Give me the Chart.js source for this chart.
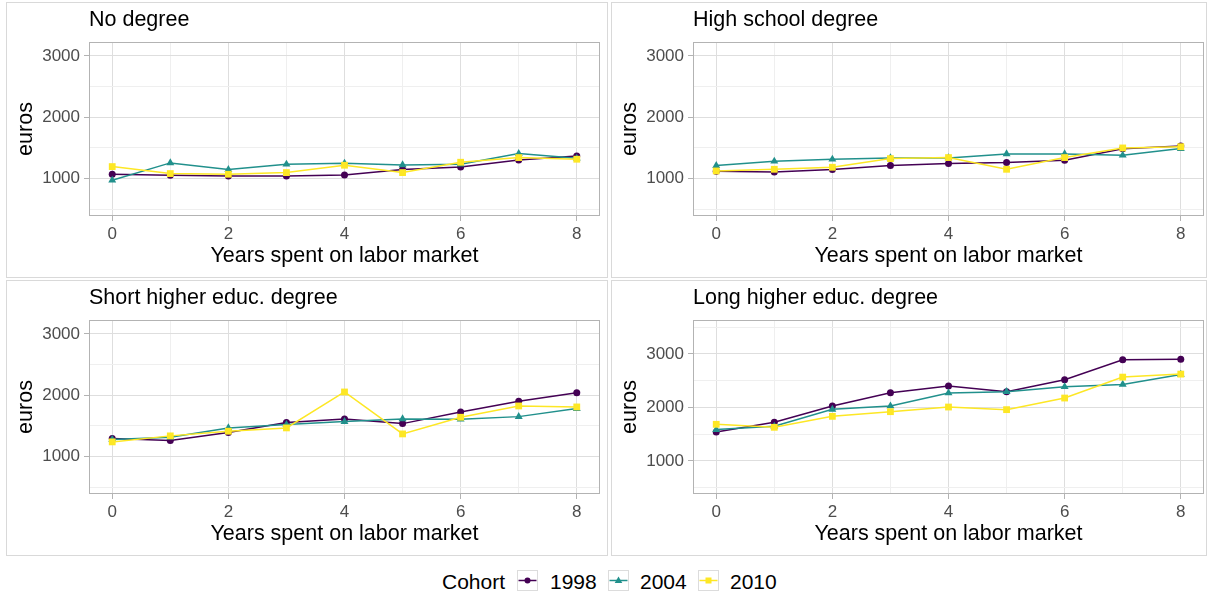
<!DOCTYPE html>
<html>
<head>
<meta charset="utf-8">
<script src="https://cdn.jsdelivr.net/npm/chart.js@4.4.0/dist/chart.umd.min.js"></script>
<style>
  html, body { margin: 0; padding: 0; background: #fff; }
  body { width: 1209px; height: 596px; position: relative; overflow: hidden;
         font-family: "Liberation Sans", Arial, Helvetica, sans-serif; }
  .box { position: absolute; border: 1px solid #d9d9d9; box-sizing: border-box; background: #fff; }
  canvas { position: absolute; }
  .ttl { position: absolute; font-size: 21.5px; line-height: 1; color: #000; white-space: nowrap; }
  .lg { position: absolute; font-size: 21px; line-height: 1; color: #000; white-space: nowrap; }
  .key { position: absolute; }
</style>
</head>
<body>
<div class="box" style="left:6px;top:2px;width:602px;height:276px"></div>
<div class="box" style="left:611px;top:2px;width:596px;height:276px"></div>
<div class="box" style="left:6px;top:280px;width:602px;height:276px"></div>
<div class="box" style="left:611px;top:280px;width:596px;height:276px"></div>

<canvas id="c0" width="605" height="278" style="left:0;top:0"></canvas>
<canvas id="c1" width="605" height="278" style="left:604px;top:0"></canvas>
<canvas id="c2" width="605" height="278" style="left:0;top:278px"></canvas>
<canvas id="c3" width="605" height="278" style="left:604px;top:278px"></canvas>

<div id="titles"></div>
<div id="legend"></div>

<script>
// ---------------- data ----------------
const years = [0, 1, 2, 3, 4, 5, 6, 7, 8];
const cohorts = ['1998', '2004', '2010'];
const panelTitles = ['No degree', 'High school degree', 'Short higher educ. degree', 'Long higher educ. degree'];

const noDegree1998 = [1071, 1054, 1044, 1044, 1060, 1150, 1190, 1305, 1370];
const noDegree2004 = [973, 1256, 1147, 1234, 1250, 1223, 1234, 1408, 1332];
const noDegree2010 = [1196, 1082, 1071, 1098, 1218, 1098, 1267, 1343, 1316];

const highSchool1998 = [1120, 1109, 1147, 1212, 1245, 1261, 1300, 1485, 1530];
const highSchool2004 = [1212, 1283, 1315, 1337, 1337, 1402, 1402, 1380, 1489];
const highSchool2010 = [1125, 1152, 1185, 1326, 1343, 1152, 1343, 1500, 1520];

const shortHigher1998 = [1294, 1261, 1392, 1555, 1614, 1538, 1728, 1902, 2043];
const shortHigher2004 = [1278, 1316, 1468, 1522, 1571, 1614, 1609, 1652, 1783];
const shortHigher2010 = [1240, 1338, 1414, 1468, 2054, 1370, 1642, 1826, 1810];

const longHigher1998 = [1540, 1721, 2025, 2273, 2397, 2290, 2515, 2888, 2900];
const longHigher2004 = [1584, 1646, 1963, 2025, 2267, 2292, 2385, 2428, 2615];
const longHigher2010 = [1683, 1627, 1832, 1919, 2006, 1957, 2174, 2565, 2621];

const yTicksStandard = [500, 1000, 1500, 2000, 2500, 3000];
const yTicksLong = [500, 1000, 1500, 2000, 2500, 3000, 3500];
const yMinByPanel = [390, 390, 390, 381];
const yMaxByPanel = [3228, 3228, 3228, 3632];
const xMin = -0.4, xMax = 8.4;

// ---------------- styling ----------------
const colors = ['#440154', '#21908C', '#FDE725'];
const shapes = ['circle', 'triangle', 'rect'];
const radii = [3.5, 4.6, 4.8];
const FONT = "'Liberation Sans', Arial, Helvetica, sans-serif";
Chart.defaults.font.family = FONT;

const panelSeries = [
  [noDegree1998, noDegree2004, noDegree2010],
  [highSchool1998, highSchool2004, highSchool2010],
  [shortHigher1998, shortHigher2004, shortHigher2010],
  [longHigher1998, longHigher2004, longHigher2010]
];
const panelYTicks = [yTicksStandard, yTicksStandard, yTicksStandard, yTicksLong];

const frame = {
  id: 'frame',
  beforeDatasetsDraw(chart) {
    const { ctx, chartArea: a } = chart;
    ctx.save();
    ctx.strokeStyle = '#b3b3b3';
    ctx.lineWidth = 1;
    const l = Math.round(a.left) + 0.5, t = Math.round(a.top) + 0.5;
    const r = Math.round(a.right) - 0.5, b = Math.round(a.bottom) - 0.5;
    ctx.strokeRect(l, t, r - l, b - t);
    ctx.restore();
  }
};

function isMajorY(v) { return v % 1000 === 0; }
function isMajorX(v) { return v % 2 === 0; }

for (let p = 0; p < 4; p++) {
  const yT = panelYTicks[p];
  const datasets = panelSeries[p].map((vals, i) => ({
    label: cohorts[i],
    data: years.map((x, k) => ({ x: x, y: vals[k] })),
    borderColor: colors[i],
    backgroundColor: colors[i],
    borderWidth: 1.5,
    pointStyle: shapes[i],
    pointRadius: radii[i],
    pointBorderWidth: 0,
    pointBackgroundColor: colors[i],
    tension: 0,
    order: 3 - i,
    clip: false
  }));

  new Chart(document.getElementById('c' + p), {
    type: 'line',
    data: { datasets },
    plugins: [frame],
    options: {
      responsive: false,
      animation: false,
      devicePixelRatio: 1,
      layout: { padding: { left: 0, right: 5, top: 42, bottom: 0 } },
      plugins: { legend: { display: false }, tooltip: { enabled: false }, title: { display: false } },
      scales: {
        x: {
          type: 'linear',
          min: xMin, max: xMax,
          afterBuildTicks: s => { s.ticks = years.map(v => ({ value: v })); },
          afterFit: s => { s.height = 62; },
          ticks: {
            autoSkip: false, maxRotation: 0, padding: 3,
            color: '#4d4d4d', font: { size: 17 },
            callback: v => isMajorX(v) ? String(v) : ''
          },
          grid: {
            color: c => (c.tick && isMajorX(c.tick.value)) ? '#dedede' : '#efefef',
            lineWidth: 1,
            tickLength: 5,
            tickColor: c => (c.tick && isMajorX(c.tick.value)) ? '#b3b3b3' : 'rgba(0,0,0,0)'
          },
          border: { display: false },
          title: {
            display: true, text: 'Years spent on labor market',
            color: '#000', font: { size: 21.5 },
            padding: { top: 0, bottom: 8.6 }
          }
        },
        y: {
          type: 'linear',
          min: yMinByPanel[p], max: yMaxByPanel[p],
          afterBuildTicks: s => { s.ticks = yT.map(v => ({ value: v })); },
          afterFit: s => { s.width = 89; },
          ticks: {
            autoSkip: false, padding: 4,
            color: '#4d4d4d', font: { size: 17 },
            callback: v => isMajorY(v) ? String(v) : ''
          },
          grid: {
            color: c => (c.tick && isMajorY(c.tick.value)) ? '#dedede' : '#efefef',
            lineWidth: 1,
            tickLength: 5,
            tickColor: c => (c.tick && isMajorY(c.tick.value)) ? '#b3b3b3' : 'rgba(0,0,0,0)'
          },
          border: { display: false },
          title: {
            display: true, text: 'euros',
            color: '#000', font: { size: 21.5 },
            padding: { top: 13, bottom: 0 }
          }
        }
      }
    }
  });
}

// ---------------- panel titles ----------------
const titleLeft = [89, 693, 89, 693];
const titleTop = [9, 9, 287, 287];
const tDiv = document.getElementById('titles');
panelTitles.forEach((t, i) => {
  const d = document.createElement('div');
  d.className = 'ttl';
  d.style.left = titleLeft[i] + 'px';
  d.style.top = titleTop[i] + 'px';
  d.textContent = t;
  tDiv.appendChild(d);
});

// ---------------- legend ----------------
const lg = document.getElementById('legend');
function addText(txt, left) {
  const d = document.createElement('div');
  d.className = 'lg';
  d.style.left = left + 'px';
  d.style.top = '571px';
  d.textContent = txt;
  lg.appendChild(d);
}
addText('Cohort', 442);
const keyLeft = [517, 608, 698];
const textLeft = [550, 640, 730];
const NS = 'http://www.w3.org/2000/svg';
cohorts.forEach((c, i) => {
  const svg = document.createElementNS(NS, 'svg');
  svg.setAttribute('width', '21'); svg.setAttribute('height', '21');
  svg.setAttribute('class', 'key');
  svg.style.left = keyLeft[i] + 'px'; svg.style.top = '570px';
  const rect = document.createElementNS(NS, 'rect');
  rect.setAttribute('x', '0.5'); rect.setAttribute('y', '0.5');
  rect.setAttribute('width', '20'); rect.setAttribute('height', '20');
  rect.setAttribute('fill', '#fff'); rect.setAttribute('stroke', '#dcdcdc');
  svg.appendChild(rect);
  const line = document.createElementNS(NS, 'line');
  line.setAttribute('x1', '1.5'); line.setAttribute('x2', '19.5');
  line.setAttribute('y1', '10.5'); line.setAttribute('y2', '10.5');
  line.setAttribute('stroke', colors[i]); line.setAttribute('stroke-width', '1.5');
  svg.appendChild(line);
  let m;
  if (shapes[i] === 'circle') {
    m = document.createElementNS(NS, 'circle');
    m.setAttribute('cx', '10.5'); m.setAttribute('cy', '10.5'); m.setAttribute('r', '3');
  } else if (shapes[i] === 'triangle') {
    m = document.createElementNS(NS, 'polygon');
    m.setAttribute('points', '10.5,6.5 14.3,13 6.7,13');
  } else {
    m = document.createElementNS(NS, 'rect');
    m.setAttribute('x', '7.5'); m.setAttribute('y', '7.5');
    m.setAttribute('width', '6'); m.setAttribute('height', '6');
  }
  m.setAttribute('fill', colors[i]);
  svg.appendChild(m);
  lg.appendChild(svg);
  addText(c, textLeft[i]);
});
</script>
</body>
</html>
